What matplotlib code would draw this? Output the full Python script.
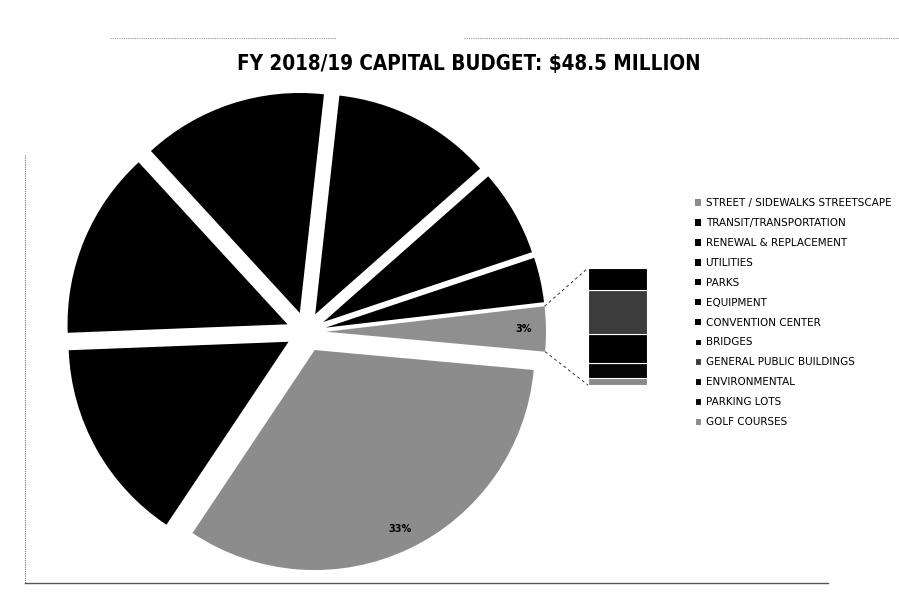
import matplotlib
matplotlib.use("Agg")
import matplotlib.pyplot as plt
import numpy as np

# Capital budget by category ($ millions)
pie_labels = ["STREET / SIDEWALKS STREETSCAPE", "TRANSIT/TRANSPORTATION",
              "RENEWAL & REPLACEMENT", "UTILITIES", "PARKS", "EQUIPMENT",
              "CONVENTION CENTER"]
pie_values = [16.0, 7.3, 6.7, 6.6, 5.7, 3.1, 1.6]
pie_colors = ["#8c8c8c", "#000000", "#000000", "#000000", "#000000", "#000000", "#000000"]

bar_labels = ["BRIDGES", "GENERAL PUBLIC BUILDINGS", "ENVIRONMENTAL",
              "PARKING LOTS", "GOLF COURSES"]
bar_values = [0.3, 0.6, 0.4, 0.2, 0.1]
bar_colors = ["#000000", "#3c3c3c", "#000000", "#050505", "#8a8a8a"]
other_color = "#8f8f8f"

title = "FY 2018/19 CAPITAL BUDGET: $48.5 MILLION"

W, H = 899, 614
def Y(y):
    return H - y

fig = plt.figure(figsize=(W / 100, H / 100), dpi=100)
ax = fig.add_axes([0, 0, 1, 1])

values = pie_values + [sum(bar_values)]
colors = pie_colors + [other_color]

def pct(p):
    return "%.0f%%" % p

# explode is in data units (pixels here)
wedges, texts, autotexts = ax.pie(values, colors=colors, startangle=-5.2,
                                  counterclock=False, explode=[20] * len(values),
                                  radius=220, center=(306, Y(332)),
                                  autopct=pct, pctdistance=0.9,
                                  wedgeprops=dict(linewidth=0))
for i, t in enumerate(autotexts):
    t.set_fontsize(7)
    t.set_fontweight("bold")
    t.set_color("black")
    if colors[i] == "#000000":
        t.set_visible(False)

# bar of the "other" slice, stacked from the bottom (golf courses) upward
bar_top, bar_bottom = Y(268), Y(385)
scale = (bar_top - bar_bottom) / sum(bar_values)
bar_patches = []
bottom = bar_bottom
for val, col in zip(bar_values[::-1], bar_colors[::-1]):
    p = ax.bar(617.5, val * scale, width=59, bottom=bottom, color=col,
               edgecolor="white", linewidth=0.8)
    bar_patches.append(p[0])
    bottom += val * scale
bar_patches = bar_patches[::-1]

# connector lines from the other slice to the bar
ow = wedges[-1]
cx, cy = ow.center
for th, by in [(ow.theta1, bar_bottom), (ow.theta2, bar_top)]:
    px = cx + ow.r * np.cos(np.radians(th))
    py = cy + ow.r * np.sin(np.radians(th))
    ax.plot([px, 588], [py, by], color="#333333", lw=0.7, ls=(0, (3, 3)))

ax.set_xlim(0, W)
ax.set_ylim(0, H)
ax.set_aspect("equal")
ax.axis("off")

ax.text(469, Y(64), title, ha="center", va="center", fontsize=14.8,
        fontweight="heavy", fontstretch="condensed", family="DejaVu Sans")

# chart area border and page rules
ax.plot([25, 25], [Y(155), Y(583)], color="#777777", lw=0.8, ls=(0, (1, 1)))
ax.plot([25, 828], [Y(583), Y(583)], color="#555555", lw=1.0)
ax.plot([110, 336], [Y(38), Y(38)], color="#999999", lw=0.8, ls=(0, (1, 1)))
ax.plot([464, 899], [Y(38), Y(38)], color="#999999", lw=0.8, ls=(0, (1, 1)))

handles = list(wedges[:-1]) + bar_patches
leg = ax.legend(handles, pie_labels + bar_labels, loc="upper left",
                bbox_to_anchor=(690, Y(193)), bbox_transform=ax.transData,
                frameon=False, fontsize=7.5, handlelength=0.6, handleheight=0.6,
                handletextpad=0.4, labelspacing=0.95, borderpad=0)

fig.savefig("out.png", dpi=100)
